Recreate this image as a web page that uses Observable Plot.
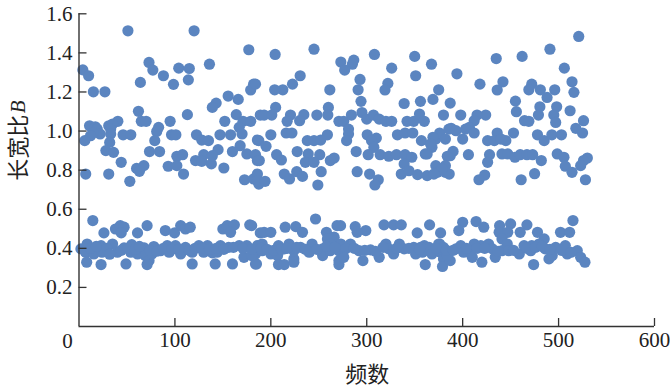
<!DOCTYPE html>
<html><head><meta charset="utf-8">
<style>html,body{margin:0;padding:0;background:#fff}svg{display:block}</style>
<script src="https://cdn.jsdelivr.net/npm/d3@7"></script>
<script src="https://cdn.jsdelivr.net/npm/@observablehq/plot@0.6"></script>
</head><body>
<script>
const upperPoints = [
[4,1.313],[10,1.283],[15,1.201],[27,1.201],[51,1.513],[73,1.351],[77,1.312],[64,1.249],[88,1.283],[98.5,1.239],[104,1.322],[115,1.32],[114,1.262],[136,1.342],[120,1.513],[177,1.416],[182,1.24],[179,1.21],[155.5,1.179],[166,1.162],[143,1.143],[139,1.121],[62,1.101],[65,1.05],[70,1.05],[113,1.084],[95,1.05],[164,1.084],[152,1.05],[171,1.05],[179,1.05],[189,1.082],[11,1.027],[17,1.022],[19,1.01],[22,.985],[15,.993],[12,.976],[6,.951],[31,1.027],[40.5,1.05],[35,1.036],[33,1.01],[33,.985],[46,.981],[54,.981],[83,1.019],[81,.998],[79,.951],[96.5,.981],[101,.981],[122.5,.981],[128,.954],[135,.951],[147,.981],[158,.981],[167,1.019],[170,.985],[168,.925],[186,.954],[32,.942],[28,.9],[36,.891],[73.5,.895],[84,.895],[145,.905],[160,.895],[175,.883],[184,.879],[186,.849],[121.5,.849],[130,.879],[128,.845],[138,.832],[139,.874],[102,.871],[108,.879],[93,.82],[102,.823],[109,.78],[44,.84],[60,.809],[67.6,.823],[63,.794],[7,.78],[31,.78],[53,.743],[151,.811],[172.6,.751],[182,.755],[186,.78],[187.5,.729],
[204.5,1.392],[245,1.419],[273,1.353],[286.5,1.363],[285,1.342],[277,1.312],[308,1.392],[326,1.322],[350,1.382],[367.5,1.342],[351,1.283],[230.6,1.283],[222.6,1.24],[212.5,1.211],[204,1.211],[184,1.24],[261.5,1.211],[293,1.264],[291,1.211],[294,1.152],[322,1.244],[319,1.21],[375,1.211],[369,1.162],[356,1.152],[339,1.141],[387,1.143],[205,1.121],[260,1.121],[193,1.082],[201,1.082],[220.5,1.082],[217,1.05],[234.4,1.084],[230,1.053],[248,1.082],[259.4,1.082],[271,1.05],[276,1.05],[284,1.082],[295,1.095],[300,1.061],[307,1.082],[313,1.061],[320,1.05],[326,1.05],[342,1.05],[349,1.05],[355,1.087],[360,1.05],[380,1.082],[281,1.01],[281,.985],[216,.99],[222,.99],[200,.981],[259,.981],[238,.951],[245,.951],[252,.954],[279,.951],[300.5,.981],[310,.964],[305,.951],[307.4,.917],[332,.981],[340,.99],[348,.99],[357,.951],[372,.959],[376,.99],[385.6,1.01],[382,.959],[368,.917],[361,.883],[187.5,.951],[195,.922],[227.5,.895],[206,.879],[211,.852],[188,.849],[239,.883],[236,.84],[251,.879],[245,.84],[266,.862],[262,.849],[289,.895],[301.5,.879],[314,.879],[323,.871],[331,.879],[340,.879],[347,.866],[339,.832],[387,.874],[214,.78],[219.5,.755],[227,.792],[233,.768],[252.5,.792],[249,.724],[290,.792],[303,.78],[312,.751],[308.5,.724],[336,.78],[344,.797],[353,.777],[363,.772],[372,.823],[373.5,.789],[382,.789],[186,.746],[194,.743],
[521,1.484],[491,1.419],[462,1.382],[435,1.371],[506,1.322],[394,1.293],[418,1.24],[442,1.252],[436,1.21],[472,1.24],[469,1.211],[481,1.211],[496,1.211],[488,1.172],[514,1.252],[516,1.198],[455,1.153],[456,1.099],[480.5,1.124],[479,1.082],[498,1.124],[495,1.082],[497,1.044],[512,1.104],[464.5,1.053],[469,1.05],[526,1.053],[518,1.014],[398,1.082],[424,1.082],[415,1.082],[412,1.053],[407,1.019],[403,1.01],[412,.99],[400,.959],[388,1.014],[393,1.002],[525,.99],[478,.981],[485,.951],[493,.981],[503,.981],[453,.99],[436,.99],[426,.951],[433,.951],[440,.959],[445,.951],[369,.968],[366.5,.934],[363,.883],[390,.896],[384,.871],[406,.879],[428,.879],[426,.84],[441,.883],[447,.883],[454.5,.866],[460,.879],[467,.879],[473,.879],[482,.849],[498.6,.883],[505.6,.866],[507,.82],[514,.789],[530,.862],[526,.849],[523,.823],[528,.751],[475,.782],[461,.751],[423,.775],[417,.751],[386,.78],[382,.823],[378.7,.806],[370,.78]
];
const lowerPoints = [
[14.4,.542],[26,.479],[38,.499],[43,.516],[47,.508],[44,.479],[61,.479],[71,.516],[90,.491],[99.6,.479],[106,.516],[111,.499],[116,.508],[150,.499],[154.5,.516],[162,.52],[158,.482],[178,.52],[189,.479],[2,.397],[8.5,.422],[7,.38],[15.5,.371],[23,.414],[24,.38],[35,.422],[40,.38],[47,.402],[55,.419],[54,.38],[61,.371],[68,.402],[69,.363],[78,.409],[73,.337],[71,.317],[76,.371],[85,.388],[92,.414],[94,.38],[100.6,.414],[106,.371],[111,.405],[118,.38],[125,.414],[134,.414],[130,.38],[139,.377],[147.5,.414],[144,.38],[156,.405],[167,.414],[175,.414],[172,.354],[186,.414],[184,.371],[8,.329],[23,.317],[49,.32],[118,.32],[142,.32],[160,.32],[184,.32],
[246.6,.55],[272.7,.516],[269,.516],[288,.511],[299,.491],[290,.482],[318,.52],[328,.52],[336,.52],[365.5,.52],[352.6,.479],[377,.479],[215,.508],[226,.511],[233,.482],[193,.482],[200,.482],[180,.516],[258,.482],[266,.457],[259,.448],[191,.422],[208,.414],[219,.422],[231,.405],[243,.422],[240,.38],[224,.388],[224,.346],[200,.371],[207,.363],[214,.397],[191,.388],[254,.397],[254,.363],[262,.422],[262,.388],[271,.388],[273,.422],[283,.422],[278,.397],[271,.337],[271,.317],[276,.354],[292,.388],[296,.337],[304,.392],[313,.354],[320,.422],[323,.397],[328,.371],[334,.422],[339,.397],[349,.405],[351,.371],[360,.414],[358,.38],[365,.405],[368,.371],[376,.422],[377,.38],[380,.346],[379,.307],[361,.317],[185,.32],[208,.317],[214,.317],[224,.329],[180,.363],
[515,.542],[400,.533],[396,.491],[414,.537],[422,.508],[438.5,.516],[438,.482],[450,.525],[447,.482],[467,.52],[460,.482],[478,.482],[502,.482],[511.5,.482],[441,.448],[485,.448],[446.5,.422],[375,.422],[380,.405],[393,.397],[398,.414],[401,.38],[412,.422],[408,.388],[410,.354],[420,.329],[419,.414],[427,.422],[431,.397],[434,.354],[441,.388],[448,.388],[459,.371],[464,.414],[472,.414],[471,.388],[479.5,.422],[486,.397],[490,.346],[493.4,.363],[497,.405],[507,.414],[509,.371],[519.5,.388],[523,.354],[527.5,.329],[474,.317],[387,.337],[384,.363],[356,.405]
];
// Further points inside the solid part of the lower band, where the dots overlap
const lowerBandPoints = [
[12,.4],[18,.41],[29,.4],[32,.37],[44,.39],[51,.4],[59,.395],[63,.41],[74,.39],[81,.385],[88,.4],[97,.395],[104,.395],[115,.39],[121,.4],[128,.4],[136,.395],[143,.4],[151,.395],[161,.405],[171,.4],[180,.395],[190,.4],[196,.395],[203,.39],[211,.395],[217,.4],[227,.405],[236,.395],[248,.395],[258,.41],[267,.405],[287,.4],[298,.39],[309,.385],[317,.405],[331,.4],[344,.4],[355,.395],[372,.4],[383,.39],[390,.39],[404,.4],[415,.4],[423,.4],[437,.385],[453,.39],[467,.4],[476,.405],[483,.41],[491,.395],[503,.39],[513,.38]
];
const xTicks = [0,100,200,300,400,500,600];
const yTicks = [0.2,0.4,0.6,0.8,1.0,1.2,1.4,1.6];
const points = [...upperPoints, ...lowerPoints, ...lowerBandPoints];
const serif = "'Liberation Serif', serif";
const cjk = "'Noto Sans CJK SC', sans-serif";
const ink = "#333";
const chart = Plot.plot({
  width: 670, height: 387,
  marginLeft: 78.5, marginRight: 16, marginTop: 13.3, marginBottom: 61,
  style: {background: "#fff", fontFamily: serif},
  x: {domain: [0, 600]},
  y: {domain: [0, 1.6]},
  marks: [
    Plot.dot(points, {x: d => d[0], y: d => d[1], r: 5.6, fill: "#5b85c0", stroke: "none"}),
    Plot.ruleX([0], {stroke: ink, strokeWidth: 1.4}),
    Plot.ruleY([0], {stroke: ink, strokeWidth: 1.4}),
    Plot.axisX({ticks: xTicks.slice(1), tickSize: -8, tickPadding: 14, label: null, fontSize: 21, stroke: ink, fill: "#222", strokeWidth: 1.3, tickFormat: d => String(d)}),
    Plot.axisY({ticks: yTicks, tickSize: -8, tickPadding: 14.5, label: null, fontSize: 21, stroke: ink, fill: "#222", strokeWidth: 1.3, tickFormat: d => d.toFixed(1)}),
    Plot.text([String(xTicks[0])], {frameAnchor: "bottom-left", dx: -11.5, dy: 15, lineAnchor: "middle", textAnchor: "middle", fontSize: 21, fill: "#222"}),
    Plot.text(["频数"], {frameAnchor: "bottom", dx: 0.5, dy: 48, lineAnchor: "middle", fontFamily: cjk, fontSize: 22, fill: "#222"}),
    Plot.text(["长宽比"], {frameAnchor: "top-left", dx: -69, dy: 167, rotate: -90, textAnchor: "start", fontFamily: cjk, fontSize: 22, fill: "#222"}),
    Plot.text(["B"], {frameAnchor: "top-left", dx: -69, dy: 99.5, rotate: -90, textAnchor: "start", fontFamily: serif, fontStyle: "italic", fontSize: 21, fill: "#222"})
  ]
});
document.body.appendChild(chart);
</script>
</body></html>
